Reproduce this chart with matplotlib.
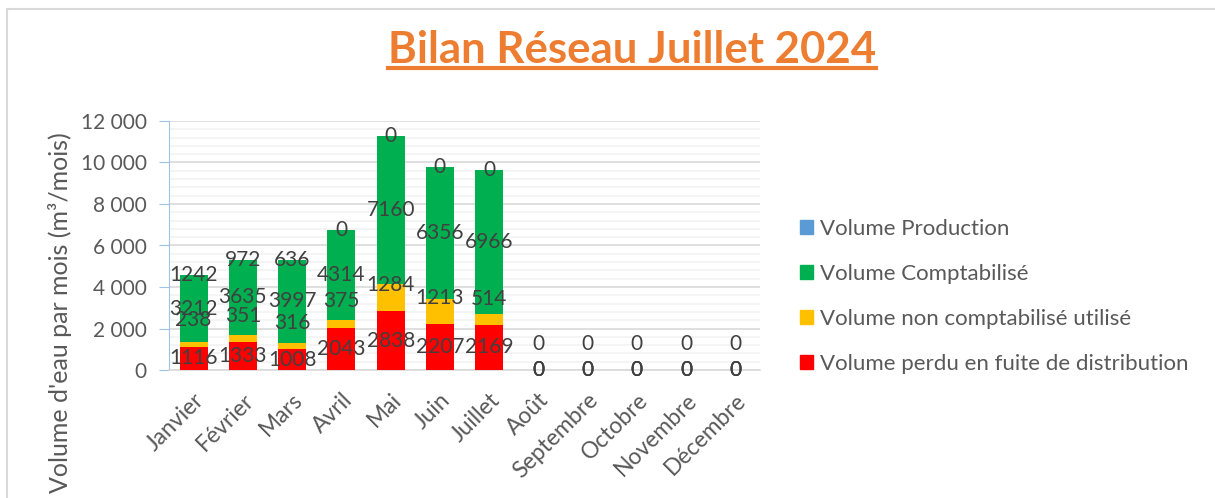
import matplotlib
matplotlib.use("Agg")
import matplotlib.pyplot as plt
import numpy as np
from matplotlib.patches import Patch, Rectangle
from matplotlib.lines import Line2D
from matplotlib.ticker import MultipleLocator, FuncFormatter

# données
mois = ["Janvier", "Février", "Mars", "Avril", "Mai", "Juin", "Juillet",
        "Août", "Septembre", "Octobre", "Novembre", "Décembre"]
production = [1242, 972, 636, 0, 0, 0, 0, 0, 0, 0, 0, 0]
comptabilise = [3212, 3635, 3997, 4314, 7160, 6356, 6966, 0, 0, 0, 0, 0]
non_comptabilise = [238, 351, 316, 375, 1284, 1213, 514, 0, 0, 0, 0, 0]
perdu = [1116, 1333, 1008, 2043, 2838, 2207, 2169, 0, 0, 0, 0, 0]

C_PROD = "#5B9BD5"
C_COMPT = "#00B050"
C_NON = "#FFC000"
C_PERDU = "#FF0000"
TXT = "#404040"
GRAY = "#595959"

plt.rcParams["font.family"] = ["Lato", "DejaVu Sans"]

W, H = 1215, 498
fig = plt.figure(figsize=(W / 100, H / 100), dpi=100)
ax = fig.add_axes([169 / W, 1 - 370 / H, (760 - 169) / W, (370 - 121) / H])

x = np.arange(len(mois))
red = np.array(perdu)
orange = np.array(non_comptabilise)
green = np.array(comptabilise)
bw = 0.57

ax.bar(x, red, bw, color=C_PERDU, zorder=3)
ax.bar(x, orange, bw, bottom=red, color=C_NON, zorder=3)
ax.bar(x, green, bw, bottom=red + orange, color=C_COMPT, zorder=3)
top = red + orange + green

lab = dict(ha="center", va="center", color=TXT, fontsize=15, zorder=5)
for i in range(len(mois)):
    ax.text(x[i], red[i] / 2, f"{perdu[i]}", **lab)
    ax.text(x[i], red[i] + 1270, f"{non_comptabilise[i]}", **lab)
    ax.text(x[i], red[i] + orange[i] + green[i] / 2, f"{comptabilise[i]}", **lab)
    ax.text(x[i], top[i], f"{production[i]}", **lab)

ax.set_xlim(-0.5, len(mois) - 0.5)
ax.set_ylim(0, 12000)
ax.yaxis.set_major_locator(MultipleLocator(2000))
ax.yaxis.set_minor_locator(MultipleLocator(400))
ax.yaxis.set_major_formatter(FuncFormatter(lambda v, p: f"{v:,.0f}".replace(",", " ")))
ax.grid(axis="y", which="major", color="#D9D9D9", lw=1.2, zorder=0)
ax.grid(axis="y", which="minor", color="#F2F2F2", lw=1.2, zorder=0)
for s in ["top", "right"]:
    ax.spines[s].set_visible(False)
ax.spines["left"].set_color("#9DC3E6")
ax.spines["bottom"].set_color("#D9D9D9")
ax.spines["bottom"].set_linewidth(1.2)
ax.tick_params(axis="y", which="major", colors="#9DC3E6", labelcolor=GRAY,
               labelsize=15, length=7, pad=9)
ax.tick_params(axis="y", which="minor", length=0)
ax.tick_params(axis="x", length=0, labelsize=16.5, labelcolor=GRAY, pad=14)
ax.set_xticks(x)
ax.set_xticklabels(mois, rotation=45, ha="right", rotation_mode="anchor")

fig.text(60 / W, 1 - 313 / H, "Volume d'eau par mois (m³/mois)", rotation=90,
         ha="center", va="center", fontsize=18, color=GRAY)

title = fig.text(632 / W, 1 - 63 / H, "Bilan Réseau Juillet 2024", ha="center",
                 va="baseline", fontsize=31.5, fontweight="bold", color="#ED7D31")

handles = [Patch(color=C_PROD), Patch(color=C_COMPT), Patch(color=C_NON), Patch(color=C_PERDU)]
labels = ["Volume Production", "Volume Comptabilisé",
          "Volume non comptabilisé utilisé", "Volume perdu en fuite de distribution"]
leg = fig.legend(handles, labels, loc="upper left", bbox_to_anchor=(800 / W, 1 - 219 / H),
                 frameon=False, fontsize=16, handlelength=0.6, handleheight=0.6,
                 handletextpad=0.3, labelspacing=1.12, borderpad=0, borderaxespad=0)
for t in leg.get_texts():
    t.set_color(GRAY)

# cadre de la zone graphique
fig.add_artist(Rectangle((7 / W, -0.1), 1.2, 1 - 9 / H + 0.1, transform=fig.transFigure,
                         fill=False, edgecolor="#D9D9D9", lw=1.5))

# soulignement du titre
fig.canvas.draw()
bb = title.get_window_extent().transformed(fig.transFigure.inverted())
fig.add_artist(Line2D([bb.x0, bb.x1], [1 - 68 / H, 1 - 68 / H],
                      transform=fig.transFigure, color="#ED7D31", lw=3))

fig.savefig("out.png", dpi=100)
